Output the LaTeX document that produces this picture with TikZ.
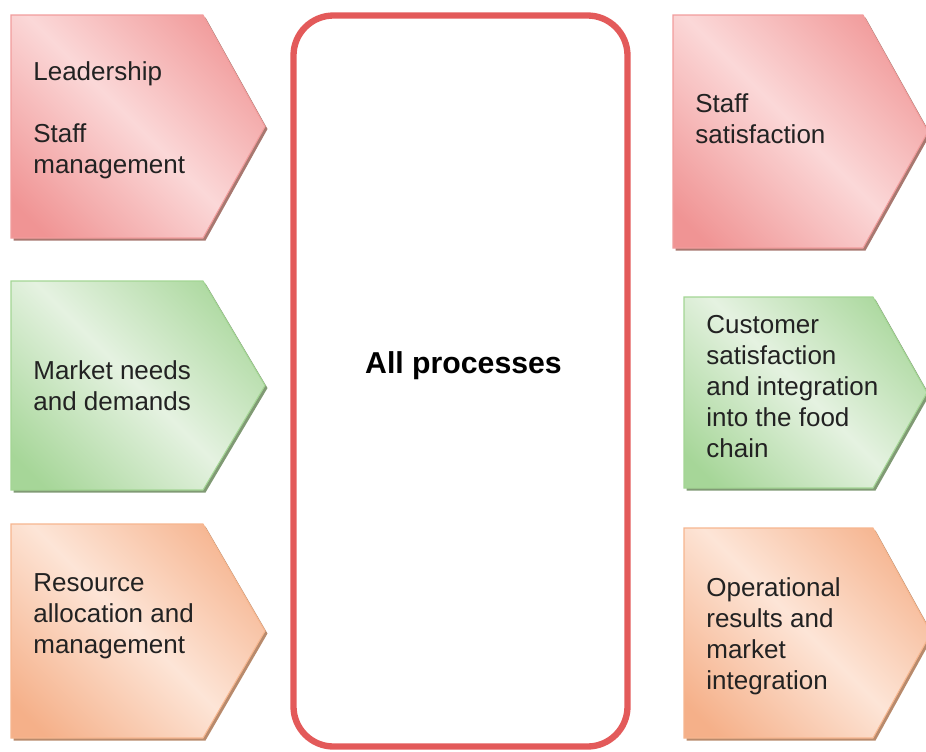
\documentclass[tikz,border=0pt]{standalone}
\usepackage{fontspec}
\setmainfont{Liberation Sans}
\usepackage[usenames,dvipsnames,svgnames,table]{xcolor}
\usetikzlibrary{positioning}

\definecolor{PinkDark}{HTML}{F09494}
\definecolor{PinkLight}{HTML}{FBD8D8}
\definecolor{PinkEdge}{HTML}{F19C9C}
\definecolor{PinkShadow}{HTML}{A87870}
\definecolor{LeafDark}{HTML}{A6D698}
\definecolor{LeafLight}{HTML}{E5F2E1}
\definecolor{LeafEdge}{HTML}{A3D594}
\definecolor{LeafShadow}{HTML}{809A74}
\definecolor{PeachDark}{HTML}{F5B089}
\definecolor{PeachLight}{HTML}{FDE5D7}
\definecolor{PeachEdge}{HTML}{F6B68F}
\definecolor{PeachShadow}{HTML}{B88A6C}
\definecolor{ProcRed}{HTML}{E35A5A}
\definecolor{TextGrey}{HTML}{222222}

\pgfdeclarehorizontalshading{pinkgrad}{100bp}{color(0bp)=(PinkDark); color(20bp)=(PinkDark); color(50bp)=(PinkLight); color(80bp)=(PinkDark); color(100bp)=(PinkDark)}
\pgfdeclarehorizontalshading{leafgrad}{100bp}{color(0bp)=(LeafDark); color(20bp)=(LeafDark); color(50bp)=(LeafLight); color(80bp)=(LeafDark); color(100bp)=(LeafDark)}
\pgfdeclarehorizontalshading{peachgrad}{100bp}{color(0bp)=(PeachDark); color(20bp)=(PeachDark); color(50bp)=(PeachLight); color(80bp)=(PeachDark); color(100bp)=(PeachDark)}

\begin{document}
\begin{tikzpicture}[x=0.02cm, y=-0.02cm,
  pinkbox/.style={draw=PinkEdge, line width=0.6pt, shading=pinkgrad, shading angle=45},
  leafbox/.style={draw=LeafEdge, line width=0.6pt, shading=leafgrad, shading angle=45},
  peachbox/.style={draw=PeachEdge, line width=0.6pt, shading=peachgrad, shading angle=45},
  lbl/.style={anchor=base west, inner sep=0pt, align=left, text=TextGrey, font=\fontsize{14.8}{17.6}\selectfont},
  procbox/.style={draw=ProcRed, line width=3.6pt, rounded corners=0.8cm}]
\useasboundingbox (0,0) rectangle (926,751);

% left column
\fill[PinkShadow, shift={(2.5,2.5)}] (11,15) -- (203,15) -- (265,126.5) -- (203,238) -- (11,238) -- cycle;
\path[pinkbox] (11,15) -- (203,15) -- (265,126.5) -- (203,238) -- (11,238) -- cycle;
\fill[LeafShadow, shift={(2.5,2.5)}] (11,281) -- (203,281) -- (265,385.5) -- (203,490) -- (11,490) -- cycle;
\path[leafbox] (11,281) -- (203,281) -- (265,385.5) -- (203,490) -- (11,490) -- cycle;
\fill[PeachShadow, shift={(2.5,2.5)}] (11,524) -- (203,524) -- (265,631) -- (203,738) -- (11,738) -- cycle;
\path[peachbox] (11,524) -- (203,524) -- (265,631) -- (203,738) -- (11,738) -- cycle;

% right column
\fill[PinkShadow, shift={(2.5,2.5)}] (673,15) -- (863,15) -- (928,131.5) -- (863,248) -- (673,248) -- cycle;
\path[pinkbox] (673,15) -- (863,15) -- (928,131.5) -- (863,248) -- (673,248) -- cycle;
\fill[LeafShadow, shift={(2.5,2.5)}] (684,297) -- (873,297) -- (927,392.5) -- (873,488) -- (684,488) -- cycle;
\path[leafbox] (684,297) -- (873,297) -- (927,392.5) -- (873,488) -- (684,488) -- cycle;
\fill[PeachShadow, shift={(2.5,2.5)}] (684,528) -- (873,528) -- (931,633) -- (873,738) -- (684,738) -- cycle;
\path[peachbox] (684,528) -- (873,528) -- (931,633) -- (873,738) -- (684,738) -- cycle;

% middle
\draw[procbox] (293.5,15.5) rectangle (627.5,746.5);
\node[anchor=base, inner sep=0pt, text=black, font=\bfseries\fontsize{17.2}{20}\selectfont] (allproc) at (463.5,373) {All processes};

% labels (anchored at the last line)
\node[lbl] (lead) at (33,173) {Leadership\\[17.6pt]Staff\\management};
\node[lbl] (market) at (33,410) {Market needs\\and demands};
\node[lbl] (resource) at (33,653) {Resource\\allocation and\\management};
\node[lbl] (staffsat) at (695,143) {Staff\\satisfaction};
\node[lbl] (custsat) at (706,457) {Customer\\satisfaction\\and integration\\into the food\\chain};
\node[lbl] (oper) at (706,689) {Operational\\results and\\market\\integration};
\end{tikzpicture}
\end{document}
